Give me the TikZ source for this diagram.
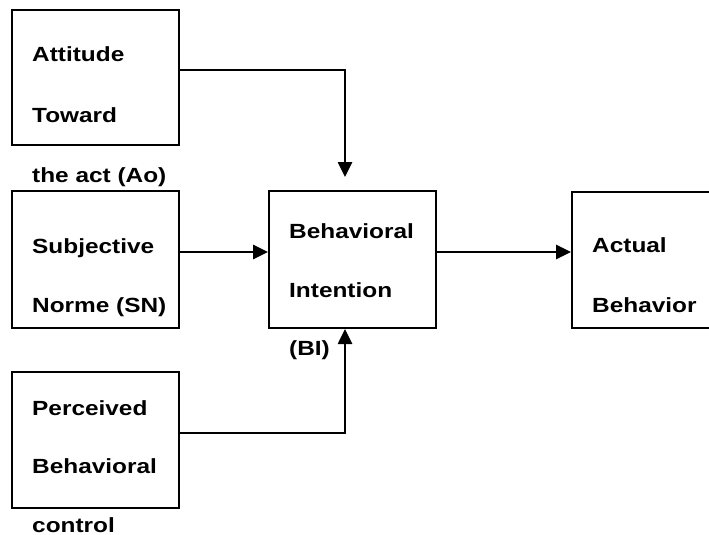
\documentclass[tikz,border=0pt]{standalone}
\usepackage{fontspec}
\setmainfont{Liberation Sans}[FakeStretch=1.19]
\usetikzlibrary{arrows.meta}
\begin{document}
\begin{tikzpicture}[x=1pt,y=-1pt,
  box/.style={draw,line width=2pt,rectangle,inner sep=0pt,minimum width=167pt,minimum height=136pt},
  lbl/.style={anchor=base west,inner sep=0pt,font=\fontsize{20.5}{24}\selectfont\bfseries},
  conn/.style={line width=2.6pt,-{Triangle[length=15pt,width=14pt]}}]
\useasboundingbox (0,0) rectangle (709,535);
\node[box,minimum height=135pt] (A) at (95.5,77.5) {};
\node[box,minimum height=137pt] (SN) at (95.5,259.5) {};
\node[box] (PBC) at (95.5,440) {};
\node[box,minimum height=137pt] (BI) at (352.5,259.5) {};
\node[box,minimum width=140pt] (AB) at (642,260) {};
\node[lbl] (t1) at (32,62) {Attitude};
\node[lbl] (t2) at (32,122) {Toward};
\node[lbl] (t3) at (32,182) {the act (Ao)};
\node[lbl] (t4) at (32,253) {Subjective};
\node[lbl] (t5) at (32,312) {Norme (SN)};
\node[lbl] (t6) at (32,415) {Perceived};
\node[lbl] (t7) at (32,473) {Behavioral};
\node[lbl] (t8) at (32,532) {control};
\node[lbl] (t9) at (289,238) {Behavioral};
\node[lbl] (t10) at (289,297) {Intention};
\node[lbl] (t11) at (289,355) {(BI)};
\node[lbl] (t12) at (592,252) {Actual};
\node[lbl] (t13) at (592,312) {Behavior};
\coordinate (aend) at (345,177);
\draw[conn] ([yshift=7.5pt]A.east) -| (aend);
\draw[conn] ([yshift=7.5pt]SN.east) -- ([yshift=7.5pt]BI.west);
\draw[conn] ([yshift=7.5pt]BI.east) -- ([yshift=7.5pt]BI.east -| AB.west);
\draw[conn] ([yshift=7pt]PBC.east) -| ([xshift=-7.5pt]BI.south);
\end{tikzpicture}
\end{document}
